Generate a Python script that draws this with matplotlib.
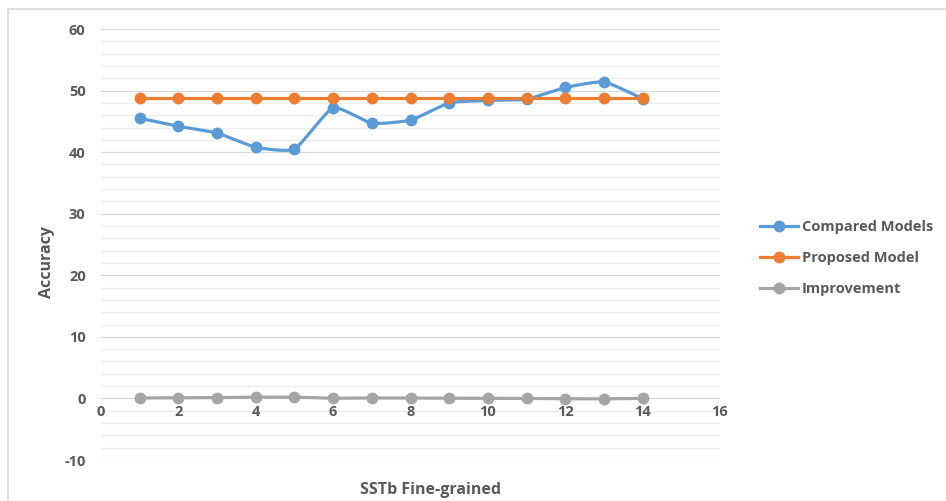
import numpy as np
import matplotlib
matplotlib.use("Agg")
import matplotlib.pyplot as plt
from matplotlib.patches import Rectangle

x_vals = [1, 2, 3, 4, 5, 6, 7, 8, 9, 10, 11, 12, 13, 14]
compared = [45.5, 44.2, 43.1, 40.8, 40.5, 47.2, 44.7, 45.2, 48.0, 48.4, 48.6, 50.5, 51.4, 48.7]
proposed = [48.8] * 14
improvement = [0.07, 0.1, 0.13, 0.22, 0.2, 0.03, 0.08, 0.07, 0.03, 0.02, 0.01, -0.05, -0.07, 0.01]
series_names = ["Compared Models", "Proposed Model", "Improvement"]
colors = ["#5B9BD5", "#ED7D31", "#A5A5A5"]

plt.rcParams['font.family'] = ['Open Sans', 'DejaVu Sans']
plt.rcParams['axes.unicode_minus'] = False
TXT = "#595959"

def smooth(xs, ys, n=20, t=0.5):
    xs = np.asarray(xs, float); ys = np.asarray(ys, float)
    px = np.concatenate([[xs[0]], xs, [xs[-1]]])
    py = np.concatenate([[ys[0]], ys, [ys[-1]]])
    ox, oy = [], []
    for i in range(1, len(px) - 2):
        p0, p1, p2, p3 = (np.array([px[j], py[j]]) for j in (i - 1, i, i + 1, i + 2))
        m1 = t * (p2 - p0) * 0.5
        m2 = t * (p3 - p1) * 0.5
        s = np.linspace(0, 1, n, endpoint=(i == len(px) - 3))
        h00 = 2 * s**3 - 3 * s**2 + 1
        h10 = s**3 - 2 * s**2 + s
        h01 = -2 * s**3 + 3 * s**2
        h11 = s**3 - s**2
        pts = (np.outer(h00, p1) + np.outer(h10, m1) + np.outer(h01, p2) + np.outer(h11, m2))
        ox.extend(pts[:, 0]); oy.extend(pts[:, 1])
    return np.array(ox), np.array(oy)

fig = plt.figure(figsize=(9.46, 5.01), dpi=100)
# outer chart border (top and left visible)
fig.patches.append(Rectangle((8 / 946, -0.1), 1.2, (501 - 9) / 501 + 0.1,
                             transform=fig.transFigure, fill=False,
                             edgecolor="#D9D9D9", lw=1.2))

ax = fig.add_axes([101 / 946, 41 / 501, (720 - 101) / 946, (460 - 29) / 501])
ax.set_xlim(0, 16)
ax.set_ylim(-10, 60)
for sp in ax.spines.values():
    sp.set_visible(False)

# gridlines
for yv in np.arange(-10, 61, 2):
    major = (yv % 10 == 0)
    ax.axhline(yv, color="#D9D9D9" if major else "#EDEDED", lw=0.9, zorder=0)

ax.set_yticks(np.arange(-10, 61, 10))
ax.set_xticks(np.arange(0, 17, 2))
ax.tick_params(length=0, labelsize=10.5, colors=TXT)
ax.tick_params(axis='y', pad=11)
for lab in ax.get_yticklabels():
    lab.set_fontweight('bold')
ax.set_xticklabels([])
for xv in range(0, 17, 2):
    ax.text(xv, -1.0, str(xv), ha='center', va='top', fontsize=10.5,
            fontweight='bold', color=TXT)

data = [compared, proposed, improvement]
for name, ys, c in zip(series_names, data, colors):
    sx, sy = smooth(x_vals, ys)
    ax.plot(sx, sy, color=c, lw=2.3, solid_capstyle='round', zorder=3)
    ax.plot(x_vals, ys, 'o', color=c, ms=7.5, zorder=4, label=name)

# legend
handles = []
for name, c in zip(series_names, colors):
    h, = plt.plot([], [], '-o', color=c, lw=2.3, ms=7.5)
    handles.append(h)
leg = fig.legend(handles, series_names, loc='center left',
                 bbox_to_anchor=(747 / 946, (501 - 258) / 501),
                 frameon=False, fontsize=10.5, handlelength=2.6,
                 handletextpad=0.25, labelspacing=1.15)
for t in leg.get_texts():
    t.set_color(TXT)
    t.set_fontweight('bold')

ax.set_ylabel("Accuracy", fontsize=11.5, fontweight='bold', color=TXT)
ax.yaxis.set_label_coords(-46 / 619, (460 - 262) / 431)
fig.text(430 / 946, 1 - 490 / 501, "SSTb Fine-grained", ha='center', va='center',
         fontsize=11.5, fontweight='bold', color=TXT)

fig.savefig("out.png", dpi=100)
